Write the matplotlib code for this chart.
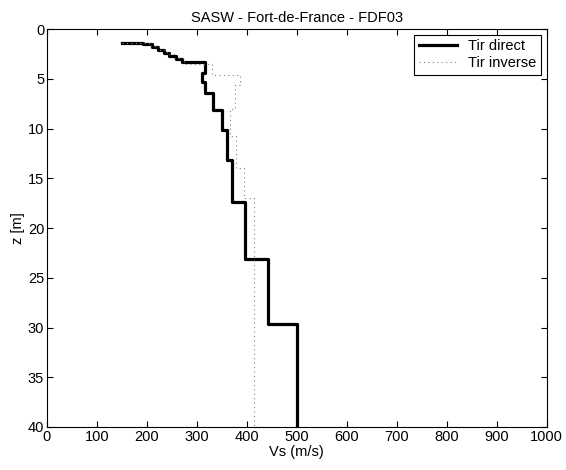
import numpy as np
import matplotlib
matplotlib.use('Agg')
import matplotlib.pyplot as plt

# profile data: depth of layer top [m] and shear-wave velocity [m/s]
z_start = 1.4
vs_start = 150
z_direct = [1.4, 1.5, 1.8, 2.1, 2.4, 2.7, 3.0, 3.3, 4.4, 5.3, 6.4, 8.1, 10.1, 13.2, 17.4, 23.1, 29.6]
vs_direct = [192, 210, 222, 235, 245, 258, 270, 316, 311, 316, 332, 350, 361, 370, 396, 442, 500]

z_inverse = [1.4, 1.7, 2.1, 2.5, 2.9, 3.5, 4.6, 5.6, 8.0, 10.7, 14.0, 17.0]
vs_inverse = [205, 225, 240, 255, 275, 330, 387, 376, 367, 378, 395, 414]
z_max = 40


def steps(z_top, vs):
    # build a step profile (x = Vs, y = z)
    x = [vs_start]
    y = [z_start]
    bottoms = list(z_top[1:]) + [z_max]
    for top, bot, v in zip(z_top, bottoms, vs):
        x += [v, v]
        y += [top, bot]
    return np.array(x), np.array(y)


params = {'font.family': ['Liberation Sans', 'DejaVu Sans'], 'font.size': 10.5}
plt.rcParams.update(params)

fig = plt.figure(figsize=(5.66, 4.70), dpi=100)
ax = fig.add_axes([0.083, 0.0915, 0.883, 0.8465])

x, y = steps(z_direct, vs_direct)
ax.plot(x, y, color='k', linewidth=2.3, label='Tir direct')
x, y = steps(z_inverse, vs_inverse)
ax.plot(x, y, color='0.5', linestyle=(0, (1, 3)), linewidth=0.8, label='Tir inverse')

ax.set_xlim(0, 1000)
ax.set_ylim(40, 0)
ax.set_xticks(np.arange(0, 1001, 100))
ax.set_yticks(np.arange(0, 41, 5))
ax.tick_params(direction='in', top=True, right=True, length=4, width=0.8, pad=2)
for s in ax.spines.values():
    s.set_linewidth(0.8)

ax.set_xlabel('Vs (m/s)', labelpad=1)
ax.set_ylabel('z [m]', labelpad=2)
ax.set_title('SASW - Fort-de-France - FDF03', fontsize=10.5, pad=5)

leg = ax.legend(loc='upper right', fancybox=False, edgecolor='k', framealpha=1,
                borderaxespad=0.4, handlelength=2.6, borderpad=0.3, labelspacing=0.2)
leg.get_frame().set_linewidth(0.8)

fig.savefig('out.png', dpi=100)
